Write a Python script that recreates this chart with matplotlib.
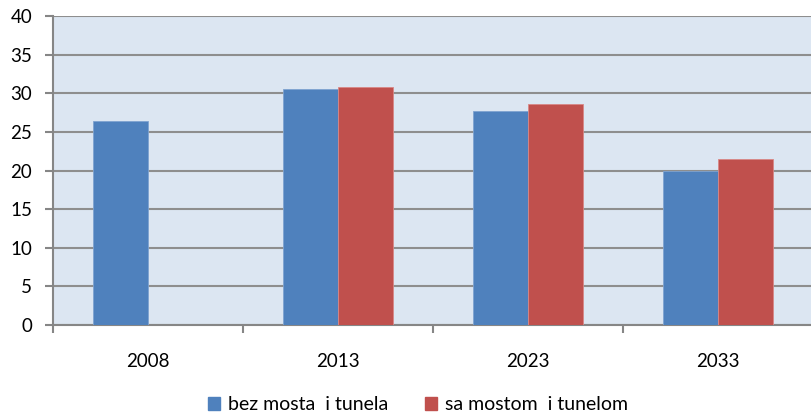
import matplotlib
matplotlib.use("Agg")
import matplotlib.pyplot as plt
import numpy as np
from matplotlib.patches import Patch

categories = ["2008", "2013", "2023", "2033"]
series_names = ["bez mosta  i tunela", "sa mostom  i tunelom"]
blue_values = [26.45, 30.5, 27.7, 20.0]
red_values = [0, 30.77, 28.57, 21.45]
y_ticks = [0, 5, 10, 15, 20, 25, 30, 35, 40]

blue = "#4F81BD"
red = "#C0504D"
grid_c = "#8E8E8E"

plt.rcParams['font.family'] = ['Lato', 'DejaVu Sans']

W, H = 811, 416
fig = plt.figure(figsize=(W/100, H/100), dpi=100)
ax = fig.add_axes([53/W, (H-325)/H, 760/W, 309/H])
ax.set_facecolor("#DCE6F2")

x = np.arange(len(categories))
bw = 55/190
ax.bar(x - bw/2, blue_values, width=bw, color=blue, edgecolor="#7FA3D0", linewidth=0.6, zorder=3)
ax.bar(x + bw/2, red_values, width=bw, color=red, edgecolor="#D88886", linewidth=0.6, zorder=3)

ax.set_xlim(-0.5, 3.5)
ax.set_ylim(0, 40)
ax.set_yticks(y_ticks)
ax.yaxis.grid(True, color=grid_c, linewidth=1.5, zorder=1)
ax.set_axisbelow(True)

for s in ["top", "right"]:
    ax.spines[s].set_visible(False)
for s in ["left", "bottom"]:
    ax.spines[s].set_color("#868686")
    ax.spines[s].set_linewidth(1.5)

ax.tick_params(axis="y", length=6, width=1.5, color="#868686", labelsize=13.5, pad=9)
ax.set_xticks(np.arange(-0.5, 4.0, 1.0))
ax.set_xticklabels([])
ax.tick_params(axis="x", which="major", length=6, width=1.5, color="#868686")
ax.set_xticks(x, minor=True)
ax.set_xticklabels(categories, minor=True)
ax.tick_params(axis="x", which="minor", length=0, labelsize=13.5, pad=20)

handles = [Patch(facecolor=blue, edgecolor=blue), Patch(facecolor=red, edgecolor=red)]
fig.legend(handles, series_names, loc="center", bbox_to_anchor=(418/W, 1-405/H),
           ncol=2, frameon=False, fontsize=14, handlelength=0.62, handleheight=0.62,
           handletextpad=0.45, columnspacing=1.85, borderpad=0.2)

fig.savefig("out.png", dpi=100)
